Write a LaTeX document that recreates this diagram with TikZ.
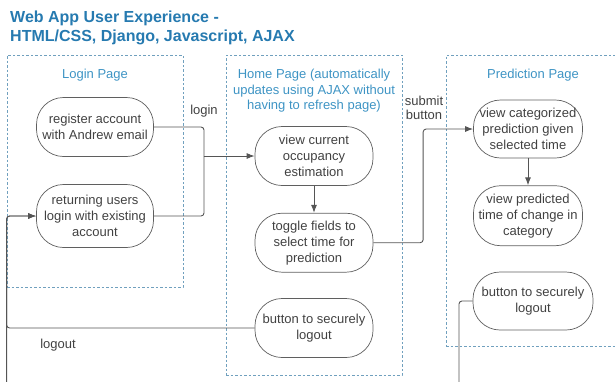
\documentclass[tikz,border=0pt]{standalone}
\usepackage{fontspec}
\setmainfont{Liberation Sans}
\usepackage{tikz}
\usetikzlibrary{positioning, arrows.meta}
\definecolor{azul_titulo}{RGB}{38,122,176}
\definecolor{azul_pagina}{RGB}{62,148,196}
\definecolor{azul_borde}{RGB}{112,160,190}
\definecolor{gris_borde}{RGB}{95,95,95}
\definecolor{gris_texto}{RGB}{65,65,65}
\definecolor{gris_linea}{RGB}{85,85,85}
\tikzset{
    caja_pagina/.style={rectangle, draw=azul_borde, line width=0.8pt, dash pattern=on 2.5pt off 2pt, inner sep=0pt},
    titulo_pagina/.style={align=center, text=azul_pagina, font=\fontsize{13}{15.5}\selectfont},
    caja_paso/.style={rectangle, rounded corners=27pt, draw=gris_borde, line width=0.7pt, align=center, text=gris_texto, inner sep=1pt, font=\fontsize{13}{16}\selectfont},
    etiqueta/.style={align=center, text=gris_texto, font=\fontsize{13}{13.5}\selectfont},
    linea/.style={draw=gris_linea, line width=0.9pt, rounded corners=3pt},
    flecha/.style={linea, -{Latex[length=8pt, width=6pt]}}
}

\begin{document}
\begin{tikzpicture}[x=1pt, y=-1pt, node distance=27pt and 20pt]

    \useasboundingbox (0,0) rectangle (615,381);
    \clip (0,0) rectangle (615,381);

    % 1. Titulo general
    \node[anchor=north west, inner sep=0pt, align=left, text=azul_titulo,
          font=\fontsize{16}{19}\selectfont\bfseries] (titulo) at (10,11)
        {Web App User Experience -\\HTML/CSS, Django, Javascript, AJAX};

    % 2. Cajas de las paginas
    \node[caja_pagina, minimum width=176pt, minimum height=232pt] (login_box) at (95,171) {};
    \node[caja_pagina, minimum width=176pt, minimum height=320pt] (home_box) at (314,215) {};
    \node[caja_pagina, minimum width=180pt, minimum height=291pt] (pred_box) at (536,200.5) {};

    \node[titulo_pagina] (login_tit) at (95,75) {Login Page};
    \node[titulo_pagina] (home_tit) at (314,91)
        {Home Page (automatically\\updates using AJAX without\\having to refresh page)};
    \node[titulo_pagina] (pred_tit) at (533,75) {Prediction Page};

    % 3. Login Page
    \node[caja_paso, minimum width=117pt, minimum height=59pt] (reg_node) at (95,127)
        {register account\\with Andrew email};
    \node[caja_paso, minimum width=117pt, minimum height=63pt] (ret_node) at (95,216)
        {returning users\\login with existing\\account};

    % 4. Home Page
    \node[caja_paso, minimum width=118pt, minimum height=59pt] (cur_node) at (314,156)
        {view current\\occupancy\\estimation};
    \node[caja_paso, minimum width=118pt, minimum height=59pt, below=of cur_node] (tog_node)
        {toggle fields to\\select time for\\prediction};
    \node[caja_paso, minimum width=118pt, minimum height=59pt] (hout_node) at (314,328)
        {button to securely\\logout};

    % 5. Prediction Page
    \node[caja_paso, minimum width=109pt, minimum height=58pt] (cat_node) at (528,129)
        {view categorized\\prediction given\\selected time};
    \node[caja_paso, minimum width=109pt, minimum height=60pt, below=of cat_node] (chg_node)
        {view predicted\\time of change in\\category};
    \node[caja_paso, minimum width=120pt, minimum height=58pt] (pout_node) at (533,301)
        {button to securely\\logout};

    % 6. Etiquetas de las conexiones
    \node[etiqueta] (login_lab) at (204,111) {login};
    \node[etiqueta] (submit_lab) at (424,108) {submit\\button};
    \node[etiqueta] (logout_lab) at (58,345) {logout};

    % --- CONEXIONES ---

    % Login: las dos entradas se unen antes de Home
    \coordinate (union_login) at (204,156);
    \draw[linea] (reg_node.east) -| (union_login);
    \draw[linea] (ret_node.east) -| (union_login);
    \draw[flecha] (union_login) -- (cur_node.west);

    % Home -> Prediction
    \draw[flecha] (cur_node) -- (tog_node);
    \draw[flecha] (tog_node.east) -| ([xshift=-50pt]cat_node.west) -- (cat_node.west);
    \draw[flecha] (cat_node) -- (chg_node);

    % Logout de vuelta al login
    \draw[flecha] (hout_node.west) -| ([xshift=-29.5pt]ret_node.west) -- (ret_node.west);
    \coordinate (bajo_pred) at (459,400);
    \draw[flecha] (pout_node.west) -| (bajo_pred) -| ([xshift=-29.5pt]ret_node.west) -- (ret_node.west);

\end{tikzpicture}
\end{document}
